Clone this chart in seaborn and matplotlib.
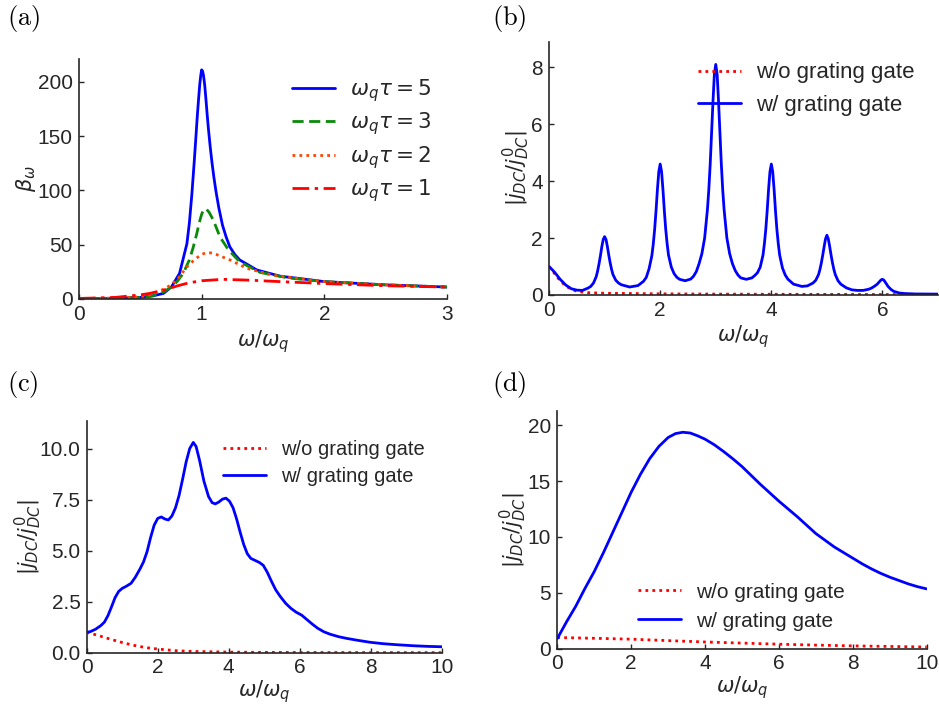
import numpy as np
import pandas as pd
import matplotlib
matplotlib.use("Agg")
import matplotlib.pyplot as plt
import seaborn as sns

# ---------------- data ----------------
# (a) beta_omega vs omega/omega_q for four values of omega_q*tau
a_x5 = [0.0, 0.3, 0.5, 0.6, 0.69, 0.755, 0.82, 0.88, 0.9, 0.92, 0.94, 0.955, 0.965, 0.975, 0.985, 0.993, 1.0,
        1.007, 1.015, 1.025, 1.035, 1.045, 1.055, 1.07, 1.085, 1.1, 1.117, 1.14, 1.17, 1.2, 1.23, 1.27, 1.31,
        1.45, 1.64, 2.0, 2.5, 3.0]
a_y5 = [0.5, 0.6, 1.5, 2.8, 5.2, 11.3, 23.6, 51, 70, 96, 127, 152, 169, 184, 198, 206, 211,
        210, 206, 197, 184, 170, 157, 140, 125, 112, 99, 84, 68, 57, 48, 41, 36,
        26.7, 21, 16, 13, 11]
a_x3 = [0.0, 0.3, 0.5, 0.6, 0.7, 0.75, 0.8, 0.85, 0.9, 0.93, 0.96, 0.98, 1.0, 1.015, 1.027, 1.04, 1.06, 1.095,
        1.15, 1.22, 1.31, 1.475, 1.7, 2.0, 2.5, 3.0]
a_y3 = [0.5, 0.6, 1.5, 2.9, 7.0, 11, 16, 23.6, 36, 47, 60, 70, 78, 82, 83, 82.5, 80, 72.7,
        57, 45, 34.3, 24.5, 19.5, 16, 13, 11]
a_x2 = [0.0, 0.3, 0.5, 0.6, 0.7, 0.75, 0.82, 0.88, 0.95, 1.0, 1.03, 1.06, 1.09, 1.12, 1.23, 1.37, 1.58, 2.0, 2.5, 3.0]
a_y2 = [0.5, 0.8, 2.0, 4.5, 9.5, 13, 20.5, 29.7, 37, 41, 42.3, 42.6, 42.2, 41, 36, 28.2, 21.9, 16, 13, 11]
a_x1 = [0.0, 0.3, 0.5, 0.58, 0.7, 0.8, 0.9, 1.0, 1.17, 1.4, 1.58, 2.0, 2.5, 3.0]
a_y1 = [0.5, 1.5, 3.8, 5.2, 8.5, 12, 15, 16.8, 18.1, 17.3, 16.3, 14.2, 12.2, 11]
a_labels = [r"$\omega_q\tau = 5$", r"$\omega_q\tau = 3$", r"$\omega_q\tau = 2$", r"$\omega_q\tau = 1$"]

# (b) sharp resonances
b_x_w = [0.0, 0.1, 0.2, 0.3, 0.4, 0.5, 0.6, 0.7, 0.75, 0.8, 0.85, 0.875, 0.9, 0.925, 0.95, 0.975, 1.0,
         1.025, 1.05, 1.075, 1.1, 1.125, 1.15, 1.2, 1.25, 1.3, 1.45,
         1.6, 1.7, 1.75, 1.8, 1.85, 1.875, 1.9, 1.925, 1.95, 1.975, 2.0,
         2.025, 2.05, 2.075, 2.1, 2.125, 2.15, 2.2, 2.25, 2.3, 2.35, 2.45,
         2.55, 2.6, 2.65, 2.7, 2.75, 2.8, 2.85, 2.875, 2.9, 2.925, 2.95, 2.975, 3.0,
         3.025, 3.05, 3.075, 3.1, 3.125, 3.15, 3.2, 3.25, 3.3, 3.35, 3.4, 3.45, 3.55,
         3.65, 3.7, 3.75, 3.8, 3.85, 3.875, 3.9, 3.925, 3.95, 3.975, 4.0,
         4.025, 4.05, 4.075, 4.1, 4.125, 4.15, 4.2, 4.25, 4.3, 4.4, 4.55,
         4.65, 4.75, 4.8, 4.85, 4.875, 4.9, 4.925, 4.95, 4.975, 5.0,
         5.025, 5.05, 5.075, 5.1, 5.125, 5.15, 5.2, 5.25, 5.35, 5.45, 5.55, 5.65,
         5.75, 5.8, 5.85, 5.9, 5.95, 5.975, 6.0, 6.025, 6.05, 6.1, 6.15, 6.2, 6.3, 6.4, 6.6, 7.0]
b_y_w = [1.0, 0.8, 0.55, 0.35, 0.22, 0.17, 0.16, 0.24, 0.3, 0.42, 0.65, 0.85, 1.1, 1.38, 1.7, 1.95, 2.05,
         1.95, 1.7, 1.4, 1.13, 0.9, 0.72, 0.52, 0.42, 0.36, 0.28,
         0.33, 0.48, 0.62, 0.92, 1.38, 1.78, 2.3, 2.95, 3.7, 4.33, 4.6,
         4.33, 3.7, 2.95, 2.3, 1.8, 1.4, 0.98, 0.75, 0.62, 0.55, 0.5,
         0.56, 0.66, 0.82, 1.1, 1.45, 2.0, 3.0, 3.7, 4.6, 5.7, 6.8, 7.75, 8.1,
         7.75, 6.8, 5.7, 4.6, 3.7, 3.0, 2.0, 1.45, 1.1, 0.86, 0.7, 0.6, 0.55,
         0.6, 0.68, 0.78, 0.98, 1.4, 1.8, 2.3, 2.95, 3.7, 4.33, 4.6,
         4.33, 3.7, 2.95, 2.3, 1.8, 1.4, 0.95, 0.7, 0.55, 0.38, 0.3,
         0.32, 0.42, 0.52, 0.72, 0.9, 1.13, 1.4, 1.7, 1.97, 2.1,
         1.97, 1.7, 1.4, 1.13, 0.9, 0.72, 0.5, 0.38, 0.25, 0.18, 0.16, 0.16,
         0.2, 0.24, 0.3, 0.37, 0.48, 0.53, 0.55, 0.52, 0.45, 0.3, 0.2, 0.13, 0.07, 0.05, 0.035, 0.03]
b_x_wo = [0.0, 0.1, 0.2, 0.3, 0.4, 0.5, 0.7, 1.0, 2.0, 3.0, 5.0, 7.0]
b_y_wo = [1.0, 0.75, 0.5, 0.32, 0.2, 0.13, 0.08, 0.06, 0.04, 0.03, 0.02, 0.01]

# (c) broadened resonances
c_x_w = [0.0, 0.1, 0.25, 0.4, 0.5, 0.6, 0.7, 0.8, 0.9, 1.0, 1.13, 1.25, 1.37, 1.5, 1.6, 1.7, 1.8, 1.9, 2.0,
         2.1, 2.2, 2.3, 2.4, 2.5, 2.6, 2.7, 2.8, 2.9, 3.0, 3.08, 3.18, 3.3, 3.43, 3.53, 3.62, 3.72, 3.82,
         3.92, 4.02, 4.12, 4.22, 4.32, 4.42, 4.52, 4.62, 4.74, 4.86, 4.97, 5.08, 5.2, 5.32, 5.45, 5.6,
         5.75, 5.9, 6.05, 6.2, 6.35, 6.5, 6.68, 6.86, 7.1, 7.32, 7.65, 7.98, 8.35, 8.73, 9.2, 9.6, 10.0]
c_y_w = [1.0, 1.03, 1.15, 1.33, 1.5, 1.82, 2.25, 2.7, 3.0, 3.15, 3.27, 3.4, 3.7, 4.1, 4.45, 4.95, 5.65, 6.25, 6.58,
         6.65, 6.55, 6.5, 6.7, 7.1, 7.7, 8.5, 9.35, 10.0, 10.3, 10.1, 9.4, 8.4, 7.65, 7.35, 7.29, 7.38, 7.52,
         7.57, 7.42, 7.1, 6.55, 5.9, 5.3, 4.85, 4.62, 4.52, 4.42, 4.28, 3.95, 3.5, 3.08, 2.75, 2.42,
         2.17, 1.98, 1.84, 1.62, 1.4, 1.2, 1.02, 0.9, 0.78, 0.7, 0.6, 0.51, 0.44, 0.39, 0.34, 0.31, 0.29]
c_x_wo = [0.0, 0.25, 0.5, 0.75, 1.0, 1.25, 1.5, 1.75, 2.0, 2.5, 3.0, 4.0, 5.0, 6.0, 8.0, 10.0]
c_y_wo = [1.0, 0.88, 0.75, 0.62, 0.5, 0.39, 0.3, 0.23, 0.18, 0.1, 0.06, 0.03, 0.015, 0.01, 0.005, 0.003]

# (d) fully broadened
d_x_w = [0.0, 0.25, 0.5, 0.75, 1.0, 1.25, 1.5, 1.75, 2.0, 2.25, 2.5, 2.75, 3.0, 3.2, 3.4, 3.6, 3.8, 4.0, 4.25,
         4.5, 4.75, 5.0, 5.25, 5.5, 5.75, 6.0, 6.25, 6.5, 6.75, 7.0, 7.25, 7.5, 7.75, 8.0, 8.25, 8.5, 8.75,
         9.0, 9.25, 9.5, 9.75, 10.0]
d_y_w = [0.9, 2.4, 3.8, 5.4, 6.9, 8.6, 10.4, 12.2, 14.0, 15.6, 17.0, 18.1, 18.9, 19.25, 19.37, 19.3, 19.05, 18.75, 18.25,
         17.65, 17.0, 16.3, 15.5, 14.7, 13.95, 13.2, 12.5, 11.8, 11.05, 10.3, 9.7, 9.1, 8.6, 8.1, 7.6, 7.15, 6.75,
         6.4, 6.1, 5.8, 5.55, 5.35]
d_x_wo = [0.0, 1.0, 2.0, 3.0, 4.0, 5.0, 6.0, 7.0, 8.0, 9.0, 10.0]
d_y_wo = [1.0, 0.93, 0.85, 0.72, 0.6, 0.5, 0.4, 0.32, 0.25, 0.2, 0.15]

wo_label = "w/o grating gate"
w_label = "w/ grating gate"

# ---------------- style ----------------
sns.set_style("ticks", {"xtick.direction": "in", "ytick.direction": "in",
                        "axes.edgecolor": "#262626"})
plt.rcParams["font.family"] = ["Liberation Sans", "DejaVu Sans"]
plt.rcParams["mathtext.fontset"] = "dejavusans"

FS = 15
fig = plt.figure(figsize=(9.39, 7.06), dpi=100)
axA = fig.add_axes([0.0841, 0.5765, 0.3919, 0.340])
axB = fig.add_axes([0.5847, 0.5822, 0.4143, 0.3588])
axC = fig.add_axes([0.0923, 0.0755, 0.3784, 0.3282])
axD = fig.add_axes([0.5935, 0.0812, 0.3934, 0.3371])

LW = 2.0
DOT = (0, (1, 1.5))

def line(ax, x, y, label, color, ls):
    df = pd.DataFrame({"x": x, "y": y})
    sns.lineplot(data=df, x="x", y="y", ax=ax, color=color, linestyle=ls,
                 linewidth=LW, label=label, estimator=None, sort=True)

# (a)
line(axA, a_x5, a_y5, a_labels[0], "#0000ff", "-")
line(axA, a_x3, a_y3, a_labels[1], "#0a8a0a", (0, (4, 2)))
line(axA, a_x2, a_y2, a_labels[2], "#ff4500", DOT)
line(axA, a_x1, a_y1, a_labels[3], "#ff0000", (0, (6, 2, 1.2, 2)))
axA.set_xlim(0, 3); axA.set_ylim(0, 221)
axA.set_xticks([0, 1, 2, 3]); axA.set_yticks([0, 50, 100, 150, 200])
axA.set_ylabel(r"$\beta_\omega$", fontsize=FS)

# (b)
line(axB, b_x_wo, b_y_wo, wo_label, "#ff0000", DOT)
line(axB, b_x_w, b_y_w, w_label, "#0000ff", "-")
axB.set_xlim(0, 7); axB.set_ylim(0, 8.9)
axB.set_xticks([0, 2, 4, 6]); axB.set_yticks([0, 2, 4, 6, 8])

# (c)
line(axC, c_x_wo, c_y_wo, wo_label, "#ff0000", DOT)
line(axC, c_x_w, c_y_w, w_label, "#0000ff", "-")
axC.set_xlim(0, 10); axC.set_ylim(0, 11.35)
axC.set_xticks([0, 2, 4, 6, 8, 10]); axC.set_yticks([0, 2.5, 5, 7.5, 10])
axC.set_yticklabels(["0.0", "2.5", "5.0", "7.5", "10.0"])

# (d)
line(axD, d_x_wo, d_y_wo, wo_label, "#ff0000", DOT)
line(axD, d_x_w, d_y_w, w_label, "#0000ff", "-")
axD.set_xlim(0, 10); axD.set_ylim(0, 21.3)
axD.set_xticks([0, 2, 4, 6, 8, 10]); axD.set_yticks([0, 5, 10, 15, 20])

jlabel = r"$|j_{DC}/j^0_{DC}|$"
for ax in (axB, axC, axD):
    ax.set_ylabel(jlabel, fontsize=FS)

for ax, lx, xpad in [(axA, -0.111, 3), (axB, -0.0437, 3), (axC, -0.120, 1), (axD, -0.0766, 1)]:
    ax.set_xlabel(r"$\omega/\omega_q$", fontsize=FS, labelpad=xpad)
    ax.yaxis.set_label_coords(lx, 0.5)
    sns.despine(ax=ax)
    ax.tick_params(direction="in", length=3.5, width=1, labelsize=FS,
                   colors="#262626")
    ax.tick_params(axis="y", pad=4.5)
    ax.tick_params(axis="x", pad=4)
    for s in ("left", "bottom"):
        ax.spines[s].set_linewidth(1.2)
        ax.spines[s].set_color("#262626")

def leg(ax, fs, anchor, spacing):
    em = fs * 100 / 72
    ax.legend(frameon=False, fontsize=fs, loc="upper left", borderaxespad=0,
              borderpad=0, handlelength=43 / em, handletextpad=15 / em,
              bbox_to_anchor=anchor, labelspacing=spacing)

leg(axA, 15.5, (0.579, 0.925), 0.31)
leg(axB, 16, (0.383, 0.918), 0.5)
leg(axC, 14.5, (0.384, 0.918), 0.42)
leg(axD, 15, (0.218, 0.278), 0.48)

for lab, x, y in [("(a)", 7, 18), ("(b)", 492, 18), ("(c)", 7, 385), ("(d)", 492, 385)]:
    fig.text(x / 939, 1 - y / 706, r"$\mathrm{" + lab + "}$", math_fontfamily="cm",
             fontsize=19, va="center", ha="left", color="black")

fig.savefig("out.png", dpi=100)
